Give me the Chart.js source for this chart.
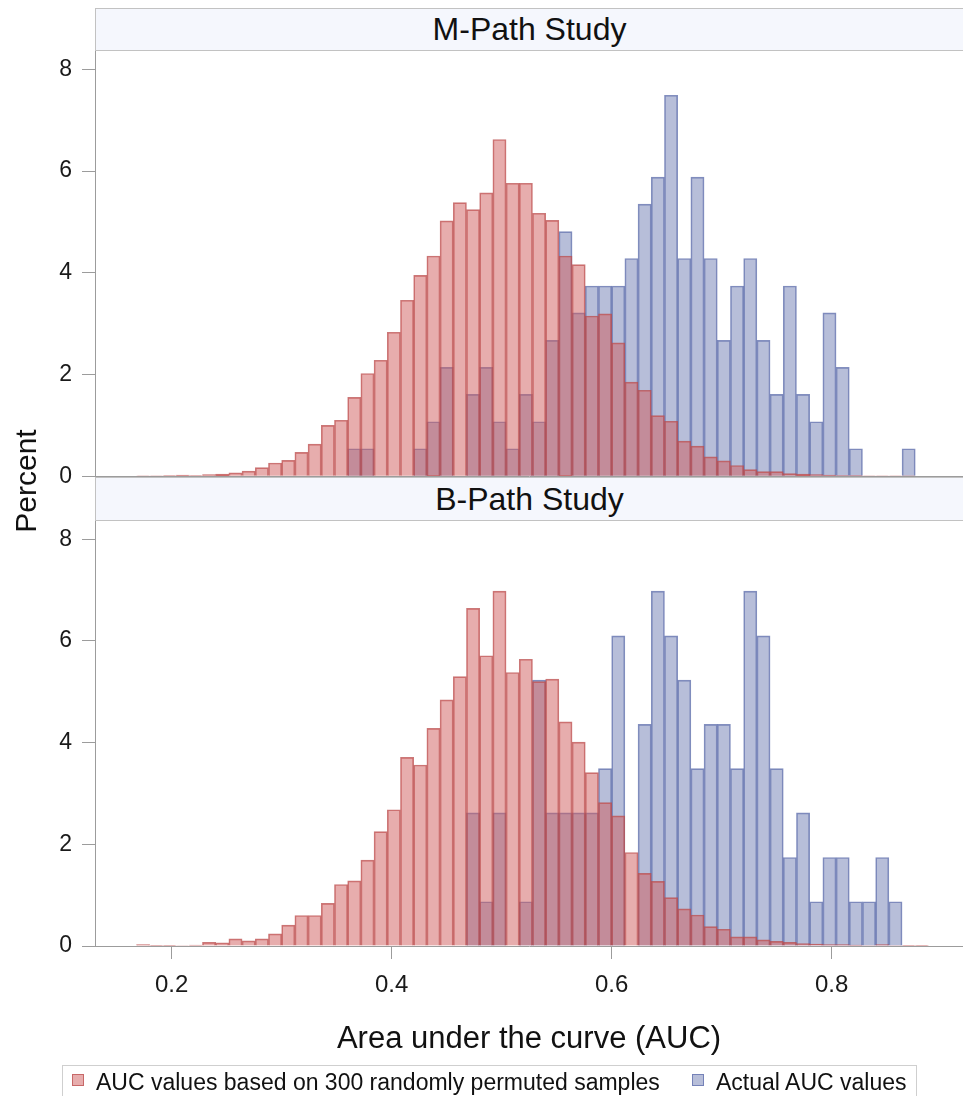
<!DOCTYPE html>
<html>
<head>
<meta charset="utf-8">
<script src="https://cdn.jsdelivr.net/npm/chart.js@4/dist/chart.umd.min.js"></script>
<style>
  body { margin: 0; background: #fff; font-family: "Liberation Sans", Arial, sans-serif; }
  #page { position: relative; width: 963px; height: 1096px; overflow: hidden; }
  canvas { position: absolute; left: 0; }
  .strip {
    position: absolute; left: 95px; width: 868px; box-sizing: border-box;
    background: #f5f7fd; border: 1px solid #c2c2c2; border-right: none;
    text-align: center; font-size: 32px; color: #111;
  }
  #percent {
    position: absolute; left: -74px; top: 463px; width: 200px; height: 36px;
    line-height: 36px; text-align: center; font-size: 30px; color: #111;
    transform: rotate(-90deg);
  }
  #legend {
    position: absolute; left: 62px; top: 1065px; width: 855px; height: 40px;
    box-sizing: border-box; border: 1px solid #cfcfcf;
  }
  .sw { position: absolute; top: 8px; width: 12px; height: 12px; box-sizing: border-box; }
  .lt { position: absolute; top: 3px; font-size: 23px; line-height: 27px; color: #111; white-space: nowrap; }
</style>
</head>
<body>
<div id="page">
  <canvas id="mChart" width="963" height="500" style="top:0px"></canvas>
  <canvas id="bChart" width="963" height="590" style="top:470px"></canvas>
  <div class="strip" style="top:8px;height:43px;line-height:41px">M-Path Study</div>
  <div class="strip" style="top:477px;height:44px;line-height:42px">B-Path Study</div>
  <div id="percent">Percent</div>
  <div id="legend">
    <div class="sw" style="left:9px;background:rgba(208,91,91,0.5);border:1px solid rgba(185,75,75,0.7)"></div>
    <div class="lt" style="left:33px">AUC values based on 300 randomly permuted samples</div>
    <div class="sw" style="left:629px;background:rgba(111,126,179,0.5);border:1px solid rgba(90,105,170,0.7)"></div>
    <div class="lt" style="left:653px">Actual AUC values</div>
  </div>
</div>
<script>
// centres des classes (largeur 0.012)
const binCenters = [0.138, 0.150, 0.162, 0.174, 0.186, 0.198, 0.210, 0.222, 0.234, 0.246,
  0.258, 0.270, 0.282, 0.294, 0.306, 0.318, 0.330, 0.342, 0.354, 0.366,
  0.378, 0.390, 0.402, 0.414, 0.426, 0.438, 0.450, 0.462, 0.474, 0.486,
  0.498, 0.510, 0.522, 0.534, 0.546, 0.558, 0.570, 0.582, 0.594, 0.606,
  0.618, 0.630, 0.642, 0.654, 0.666, 0.678, 0.690, 0.702, 0.714, 0.726,
  0.738, 0.750, 0.762, 0.774, 0.786, 0.798, 0.810, 0.822, 0.834, 0.846,
  0.858, 0.870, 0.882, 0.894];

// M-Path : permutations (%)
const mPermuted = [0, 0, 0, 0.005, 0.005, 0.01, 0.02, 0.01, 0.03, 0.04,
  0.065, 0.10, 0.17, 0.26, 0.31, 0.47, 0.63, 1.00, 1.10, 1.55,
  2.02, 2.28, 2.83, 3.46, 3.95, 4.33, 5.02, 5.38, 5.24, 5.57,
  6.62, 5.76, 5.76, 5.17, 5.03, 4.33, 4.16, 3.15, 3.19, 2.62,
  1.85, 1.69, 1.19, 1.08, 0.69, 0.59, 0.38, 0.30, 0.21, 0.13,
  0.09, 0.09, 0.05, 0.04, 0.03, 0.02, 0.01, 0.01, 0.005, 0.005,
  0.005, 0.005, 0, 0];

// M-Path : AUC observées (%)
const mActual = [0, 0, 0, 0, 0, 0, 0, 0, 0, 0,
  0, 0, 0, 0, 0, 0, 0, 0, 0, 0.54,
  0.54, 0, 0, 0, 0.54, 1.07, 2.14, 0, 1.61, 2.14,
  1.07, 0.54, 1.61, 1.07, 2.67, 4.81, 3.21, 3.74, 3.74, 3.74,
  4.28, 5.35, 5.88, 7.49, 4.28, 5.88, 4.28, 2.67, 3.74, 4.28,
  2.67, 1.61, 3.74, 1.61, 1.07, 3.21, 2.14, 0.54, 0, 0,
  0, 0.54, 0, 0];

// B-Path : permutations (%)
const bPermuted = [0, 0, 0, 0.03, 0.005, 0.005, 0.01, 0.02, 0.07, 0.06,
  0.14, 0.10, 0.14, 0.24, 0.41, 0.60, 0.60, 0.84, 1.21, 1.28,
  1.69, 2.25, 2.68, 3.71, 3.56, 4.28, 4.84, 5.30, 6.64, 5.71,
  6.98, 5.38, 5.64, 5.20, 5.25, 4.41, 4.01, 3.41, 2.82, 2.56,
  1.84, 1.43, 1.27, 0.95, 0.73, 0.61, 0.38, 0.33, 0.18, 0.18,
  0.12, 0.09, 0.07, 0.05, 0.04, 0.03, 0.03, 0.02, 0.01, 0.03,
  0.01, 0.005, 0.005, 0];

// B-Path : AUC observées (%)
const bActual = [0, 0, 0, 0, 0, 0, 0, 0, 0, 0,
  0, 0, 0, 0, 0, 0, 0, 0, 0, 0,
  0, 0, 0, 0, 0, 0, 0, 0, 2.62, 0.87,
  2.62, 0, 0.87, 5.23, 2.62, 2.62, 2.62, 2.62, 3.49, 6.10,
  0, 4.36, 6.98, 6.10, 5.23, 3.49, 4.36, 4.36, 3.49, 6.98,
  6.10, 3.49, 1.74, 2.62, 0.87, 1.74, 1.74, 0.87, 0.87, 1.74,
  0.87, 0, 0, 0];

const yTicks = [0, 2, 4, 6, 8];
const xTicks = [0.2, 0.4, 0.6, 0.8];

const axisGrey = '#9c9c9c';
const font = '"Liberation Sans", Arial, sans-serif';

function toPoints(values) {
  return binCenters.map((x, i) => ({ x: x, y: values[i] }));
}

function makeDatasets(permuted, actual) {
  // le rouge (index 0) est dessiné par-dessus le bleu
  return [{
    label: 'AUC values based on 300 randomly permuted samples',
    data: toPoints(permuted),
    backgroundColor: 'rgba(208, 91, 91, 0.5)',
    borderColor: 'rgba(185, 75, 75, 0.75)',
    borderWidth: 1
  }, {
    label: 'Actual AUC values',
    data: toPoints(actual),
    backgroundColor: 'rgba(111, 126, 179, 0.5)',
    borderColor: 'rgba(90, 105, 170, 0.75)',
    borderWidth: 1
  }];
}

function yScale() {
  return {
    min: 0,
    max: 8.36,
    afterBuildTicks: s => { s.ticks = yTicks.map(v => ({ value: v })); },
    afterFit: s => { s.width = 95; },
    ticks: { color: '#1a1a1a', padding: 10, font: { family: font, size: 23 } },
    grid: { display: true, drawOnChartArea: false, drawTicks: true, tickLength: 13, color: axisGrey },
    border: { display: true, color: axisGrey }
  };
}

function baseOptions(xOpts, padding) {
  return {
    responsive: false,
    animation: false,
    layout: { padding: padding },
    datasets: { bar: { grouped: false, barPercentage: 1, categoryPercentage: 1 } },
    plugins: { legend: { display: false }, tooltip: { enabled: false } },
    scales: { x: xOpts, y: yScale() }
  };
}

// panneau du haut : M-Path
new Chart(document.getElementById('mChart'), {
  type: 'bar',
  data: { datasets: makeDatasets(mPermuted, mActual) },
  options: baseOptions({
    type: 'linear',
    offset: false,
    min: 0.1303,
    max: 0.9194,
    afterFit: s => { s.height = 0; },
    ticks: { display: false },
    grid: { display: false, offset: false },
    border: { display: true, color: axisGrey }
  }, { top: 51, bottom: 23, left: 0, right: 0 })
});

// panneau du bas : B-Path
new Chart(document.getElementById('bChart'), {
  type: 'bar',
  data: { datasets: makeDatasets(bPermuted, bActual) },
  options: baseOptions({
    type: 'linear',
    offset: false,
    min: 0.1303,
    max: 0.9194,
    afterBuildTicks: s => { s.ticks = xTicks.map(v => ({ value: v })); },
    afterFit: s => { s.height = 114; },
    ticks: {
      color: '#1a1a1a', padding: 12, maxRotation: 0,
      font: { family: font, size: 24 },
      callback: v => Number(v).toFixed(1)
    },
    grid: { display: true, offset: false, drawOnChartArea: false, drawTicks: true, tickLength: 13, color: axisGrey },
    border: { display: true, color: axisGrey },
    title: {
      display: true,
      text: 'Area under the curve (AUC)',
      color: '#111',
      font: { family: font, size: 31 },
      padding: { top: 0, bottom: 2 }
    }
  }, { top: 51, bottom: 0, left: 0, right: 0 })
});
</script>
</body>
</html>
